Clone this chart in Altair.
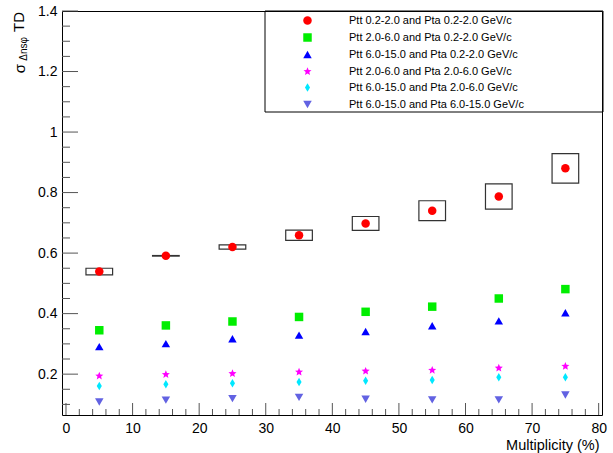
import altair as alt
import pandas as pd

# ---------------- data ----------------
mult = [5, 15, 25, 35, 45, 55, 65, 75]

series_names = [
    "Ptt 0.2-2.0 and Pta 0.2-2.0 GeV/c",
    "Ptt 2.0-6.0 and Pta 0.2-2.0 GeV/c",
    "Ptt 6.0-15.0 and Pta 0.2-2.0 GeV/c",
    "Ptt 2.0-6.0 and Pta 2.0-6.0 GeV/c",
    "Ptt 6.0-15.0 and Pta 2.0-6.0 GeV/c",
    "Ptt 6.0-15.0 and Pta 6.0-15.0 GeV/c",
]

s1 = [0.539, 0.591, 0.620, 0.659, 0.698, 0.740, 0.787, 0.880]
s1_sys = [0.011, 0.001, 0.007, 0.017, 0.023, 0.033, 0.042, 0.049]
s2 = [0.345, 0.361, 0.374, 0.389, 0.406, 0.423, 0.450, 0.481]
s3 = [0.291, 0.301, 0.317, 0.329, 0.341, 0.360, 0.376, 0.403]
s4 = [0.194, 0.199, 0.202, 0.207, 0.210, 0.213, 0.220, 0.226]
s5 = [0.161, 0.167, 0.170, 0.174, 0.178, 0.181, 0.190, 0.190]
s6 = [0.108, 0.114, 0.119, 0.123, 0.117, 0.115, 0.115, 0.131]

x_major = [0, 10, 20, 30, 40, 50, 60, 70, 80]
x_minor = [2, 4, 6, 8, 12, 14, 16, 18, 22, 24, 26, 28, 32, 34, 36, 38,
           42, 44, 46, 48, 52, 54, 56, 58, 62, 64, 66, 68, 72, 74, 76, 78]
y_major = [0.2, 0.4, 0.6, 0.8, 1.0, 1.2, 1.4]
y_minor = [0.1, 0.15, 0.25, 0.3, 0.35, 0.45, 0.5, 0.55, 0.65, 0.7, 0.75,
           0.85, 0.9, 0.95, 1.05, 1.1, 1.15, 1.25, 1.3, 1.35]

# ---------------- styles ----------------
STAR = ("M0,-1L0.265,-0.364L0.951,-0.309L0.428,0.139L0.588,0.809L0,0.45"
        "L-0.588,0.809L-0.428,0.139L-0.951,-0.309L-0.265,-0.364Z")
DIAMOND = "M0,-1L0.6,0L0,1L-0.6,0Z"
colors = ["#ff0000", "#00ee00", "#0000ff", "#ff00ff", "#00e8ff", "#6262e2"]
shapes = ["circle", "square", "triangle-up", STAR, DIAMOND, "triangle-down"]
sizes = [72, 72, 76, 64, 64, 76]
FONT = "Liberation Sans"

W, H = 540, 404

rows = []
for name, vals in zip(series_names, [s1, s2, s3, s4, s5, s6]):
    for m, v in zip(mult, vals):
        rows.append({"series": name, "mult": m, "value": v})
df = pd.DataFrame(rows)
sys_df = pd.DataFrame({"mult": mult, "value": s1, "sys": s1_sys})

x_scale = alt.Scale(domain=[-0.6, 80.5], nice=False, zero=False)
y_scale = alt.Scale(domain=[0.065, 1.4], nice=False, zero=False)

x_axis = alt.Axis(
    values=x_major, ticks=False, domain=False, grid=False,
    labelFont=FONT, labelFontSize=14, labelPadding=6, labelColor="black",
    titleFont=FONT, titleFontSize=14.5, titleFontWeight="normal",
    titleColor="black", titleX=537, titleY=34, titleAlign="right",
    titleBaseline="alphabetic", titleAnchor="end")
y_axis = alt.Axis(
    values=y_major, format="~g", ticks=False, domain=False, grid=False,
    labelFont=FONT, labelFontSize=14, labelPadding=5, labelColor="black")
XT = "Multiplicity (%)"
YT = " "


def X(field):
    return alt.X(field, scale=x_scale, axis=x_axis, title=XT)


def Y(field):
    return alt.Y(field, scale=y_scale, axis=y_axis, title=YT)


# ---------------- layers ----------------
xmaj = alt.Chart(pd.DataFrame({"v": x_major})).mark_rule(color="#555", strokeWidth=1).encode(
    x=X("v:Q"), y=alt.value(H), y2=alt.value(H - 12))
xmin = alt.Chart(pd.DataFrame({"v": x_minor})).mark_rule(color="#555", strokeWidth=1).encode(
    x=X("v:Q"), y=alt.value(H), y2=alt.value(H - 6))
ymaj = alt.Chart(pd.DataFrame({"v": y_major})).mark_rule(color="#555", strokeWidth=1).encode(
    y=Y("v:Q"), x=alt.value(0), x2=alt.value(16))
ymin = alt.Chart(pd.DataFrame({"v": y_minor})).mark_rule(color="#555", strokeWidth=1).encode(
    y=Y("v:Q"), x=alt.value(0), x2=alt.value(8))

boxes = alt.Chart(sys_df).transform_calculate(
    xa="datum.mult - 2", xb="datum.mult + 2",
    ya="datum.value - datum.sys", yb="datum.value + datum.sys",
).mark_rect(filled=False, stroke="#333", strokeWidth=1.2).encode(
    x=X("xa:Q"), x2="xb:Q",
    y=Y("ya:Q"), y2="yb:Q",
)

points = alt.Chart(df).mark_point(filled=True, opacity=1).encode(
    x=X("mult:Q"),
    y=Y("value:Q"),
    color=alt.Color("series:N", scale=alt.Scale(domain=series_names, range=colors),
                    legend=alt.Legend(orient="none", legendX=240, legendY=4, title=None,
                                      labelFont=FONT, labelFontSize=11, labelColor="black",
                                      labelOffset=36, rowPadding=2, padding=0,
                                      symbolOpacity=1, labelLimit=300)),
    shape=alt.Shape("series:N", scale=alt.Scale(domain=series_names, range=shapes)),
    size=alt.Size("series:N", scale=alt.Scale(domain=series_names, range=sizes)),
)

legend_box = alt.Chart(pd.DataFrame({"a": [0]})).mark_rect(
    filled=False, stroke="black", strokeWidth=1).encode(
    x=alt.value(203), x2=alt.value(541), y=alt.value(0), y2=alt.value(101))

t_td = alt.Chart(pd.DataFrame({"t": ["TD"]})).mark_text(
    angle=270, align="right", baseline="middle", font=FONT, fontSize=15, color="black").encode(
    text="t:N", x=alt.value(-43), y=alt.value(1))
t_sub = alt.Chart(pd.DataFrame({"t": ["Δnsφ"]})).mark_text(
    angle=270, align="right", baseline="middle", font=FONT, fontSize=10, color="black").encode(
    text="t:N", x=alt.value(-38), y=alt.value(26))
t_sig = alt.Chart(pd.DataFrame({"t": ["σ"]})).mark_text(
    angle=270, align="right", baseline="middle", font=FONT, fontSize=15, color="black").encode(
    text="t:N", x=alt.value(-42), y=alt.value(53))

chart = alt.layer(xmaj, xmin, ymaj, ymin, boxes, points, legend_box, t_td, t_sub, t_sig).properties(
    width=W, height=H,
    autosize=alt.AutoSizeParams(type="none"),
    padding={"left": 62, "top": 11, "right": 11, "bottom": 38},
    background="white",
).configure_view(stroke="black", strokeWidth=1)

chart.save("out.html", embed_options={"renderer": "svg", "actions": False})
